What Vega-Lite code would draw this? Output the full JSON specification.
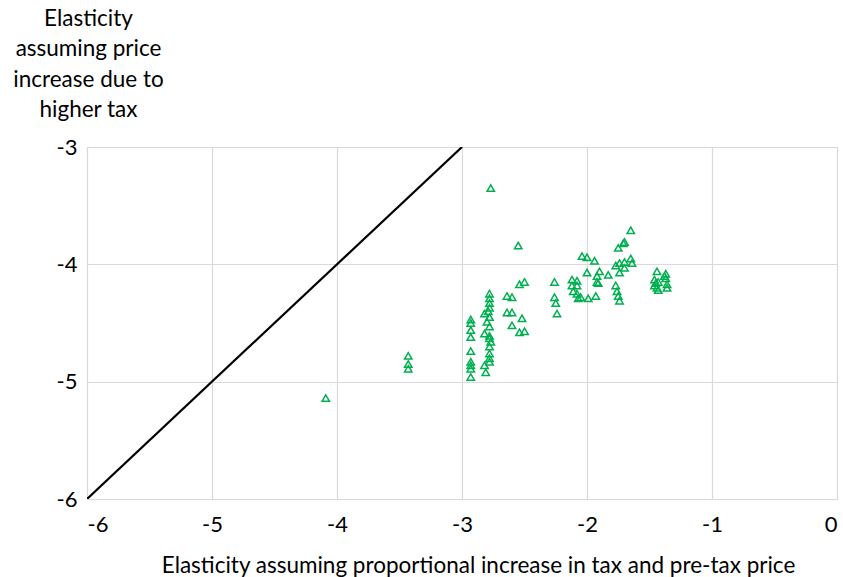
{
  "$schema": "https://vega.github.io/schema/vega-lite/v6.json",
  "width": 750,
  "height": 352,
  "autosize": {"type": "none"},
  "padding": {"left": 87, "top": 147, "right": 6, "bottom": 78},
  "background": "white",
  "config": {
    "font": "Lato",
    "view": {"stroke": "#d9d9d9", "strokeWidth": 1},
    "axis": {
      "labelFont": "Lato", "titleFont": "Lato",
      "labelFontSize": 22, "titleFontSize": 22.5,
      "labelColor": "#000000", "titleColor": "#000000",
      "titleFontWeight": "normal",
      "gridColor": "#d9d9d9", "gridWidth": 1.2,
      "domain": false, "ticks": false
    }
  },
  "datasets": {
    "pts": [
      {"x": -2.77, "y": -3.35}, {"x": -2.55, "y": -3.84},
      {"x": -2.54, "y": -4.17}, {"x": -2.50, "y": -4.15},
      {"x": -2.26, "y": -4.15}, {"x": -2.26, "y": -4.28}, {"x": -2.25, "y": -4.33}, {"x": -2.24, "y": -4.42},
      {"x": -2.64, "y": -4.27}, {"x": -2.60, "y": -4.28},
      {"x": -2.64, "y": -4.41}, {"x": -2.60, "y": -4.41},
      {"x": -2.52, "y": -4.46}, {"x": -2.60, "y": -4.52},
      {"x": -2.54, "y": -4.58}, {"x": -2.50, "y": -4.57},
      {"x": -2.93, "y": -4.47}, {"x": -2.93, "y": -4.50}, {"x": -2.93, "y": -4.56}, {"x": -2.93, "y": -4.62},
      {"x": -2.93, "y": -4.74}, {"x": -2.93, "y": -4.83}, {"x": -2.93, "y": -4.86}, {"x": -2.93, "y": -4.89},
      {"x": -2.93, "y": -4.96},
      {"x": -2.78, "y": -4.25}, {"x": -2.78, "y": -4.29}, {"x": -2.78, "y": -4.33}, {"x": -2.78, "y": -4.37},
      {"x": -2.79, "y": -4.40}, {"x": -2.82, "y": -4.42}, {"x": -2.78, "y": -4.45}, {"x": -2.80, "y": -4.49},
      {"x": -2.78, "y": -4.53}, {"x": -2.82, "y": -4.59}, {"x": -2.78, "y": -4.61}, {"x": -2.78, "y": -4.63},
      {"x": -2.77, "y": -4.66}, {"x": -2.78, "y": -4.70}, {"x": -2.78, "y": -4.76}, {"x": -2.78, "y": -4.80},
      {"x": -2.78, "y": -4.83}, {"x": -2.82, "y": -4.86}, {"x": -2.81, "y": -4.92},
      {"x": -1.65, "y": -3.71}, {"x": -1.70, "y": -3.81}, {"x": -1.71, "y": -3.82}, {"x": -1.75, "y": -3.86},
      {"x": -2.04, "y": -3.93}, {"x": -2.00, "y": -3.94}, {"x": -1.94, "y": -3.97},
      {"x": -1.74, "y": -3.99}, {"x": -1.77, "y": -4.01}, {"x": -1.70, "y": -3.98},
      {"x": -1.65, "y": -3.95}, {"x": -1.64, "y": -3.99}, {"x": -1.70, "y": -4.03},
      {"x": -2.00, "y": -4.07}, {"x": -1.90, "y": -4.06}, {"x": -1.92, "y": -4.10},
      {"x": -1.83, "y": -4.09}, {"x": -1.74, "y": -4.07},
      {"x": -2.12, "y": -4.13}, {"x": -2.08, "y": -4.14}, {"x": -2.12, "y": -4.18}, {"x": -2.08, "y": -4.18},
      {"x": -1.92, "y": -4.15}, {"x": -1.91, "y": -4.16},
      {"x": -1.77, "y": -4.18}, {"x": -1.76, "y": -4.23}, {"x": -1.75, "y": -4.27}, {"x": -1.74, "y": -4.31},
      {"x": -2.11, "y": -4.23}, {"x": -2.08, "y": -4.25}, {"x": -2.07, "y": -4.29}, {"x": -2.05, "y": -4.28},
      {"x": -1.99, "y": -4.29}, {"x": -1.93, "y": -4.27},
      {"x": -1.44, "y": -4.06}, {"x": -1.46, "y": -4.13}, {"x": -1.43, "y": -4.15}, {"x": -1.46, "y": -4.18},
      {"x": -1.44, "y": -4.20}, {"x": -1.43, "y": -4.22}, {"x": -1.45, "y": -4.16},
      {"x": -1.37, "y": -4.08}, {"x": -1.37, "y": -4.12}, {"x": -1.36, "y": -4.17}, {"x": -1.36, "y": -4.20},
      {"x": -1.38, "y": -4.10},
      {"x": -3.43, "y": -4.78}, {"x": -3.43, "y": -4.85}, {"x": -3.43, "y": -4.89},
      {"x": -4.09, "y": -5.14}
    ],
    "diag": [{"x": -6, "y": -6}, {"x": -3, "y": -3}]
  },
  "layer": [
    {
      "data": {"name": "diag"},
      "mark": {"type": "line", "color": "#000000", "strokeWidth": 2.2, "clip": true},
      "encoding": {
        "x": {"field": "x", "type": "quantitative"},
        "y": {"field": "y", "type": "quantitative"}
      }
    },
    {
      "data": {"name": "pts"},
      "mark": {"type": "point", "shape": "triangle-up", "filled": false, "color": "#00b050", "strokeWidth": 1.5, "size": 55, "opacity": 1},
      "encoding": {
        "x": {
          "field": "x", "type": "quantitative",
          "scale": {"domain": [-6, 0], "nice": false, "zero": false},
          "axis": {
            "values": [-6, -5, -4, -3, -2, -1, 0], "labelPadding": 15,
            "labelExpr": "'' + datum.value",
            "title": "Elasticity assuming proportional increase in tax and pre-tax price",
            "titleAnchor": "start", "titleAlign": "center", "titleX": 391, "titleY": 55, "titleBaseline": "top"
          }
        },
        "y": {
          "field": "y", "type": "quantitative",
          "scale": {"domain": [-6, -3], "nice": false, "zero": false},
          "axis": {
            "values": [-6, -5, -4, -3], "labelPadding": 10,
            "labelExpr": "'' + datum.value",
            "title": ["Elasticity", "assuming price", "increase due to", "higher tax"],
            "titleAngle": 0, "titleAlign": "center", "titleAnchor": "start",
            "titleX": 1, "titleY": -140, "titleBaseline": "top", "titleLineHeight": 30.5
          }
        }
      }
    }
  ]
}
